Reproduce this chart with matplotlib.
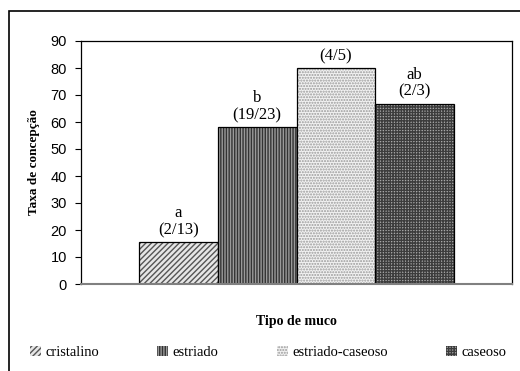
import matplotlib.pyplot as plt
from matplotlib.patches import Rectangle

# data
tipos = ["cristalino", "estriado", "estriado-caseoso", "caseoso"]
taxa = [15.4, 58.0, 80.0, 66.7]
letras = ["a\n(2/13)", "b\n(19/23)", "(4/5)", "ab\n(2/3)"]
yticks = list(range(0, 91, 10))

faces = ["#e6e6e6", "#9a9a9a", "#f2f2f2", "#a8a8a8"]
hatch_cols = ["#555555", "#333333", "#9a9a9a", "#3c3c3c"]
hatches = ["//////", "||||||", "......", "++++++"]

serif = ["Liberation Serif", "DejaVu Serif"]
narrow = ["Liberation Sans Narrow", "Liberation Sans", "DejaVu Sans"]

fig = plt.figure(figsize=(5.2, 3.71), dpi=100)
ax = fig.add_axes([81 / 520, 1 - 284 / 371, 431 / 520, 243 / 371])

# outer chart frame (runs off the right/bottom edge)
fig.patches.append(Rectangle((9 / 520, -0.05), 1.0, 1 - 11 / 371 + 0.05,
                             transform=fig.transFigure, fill=False,
                             edgecolor="black", linewidth=1.2))

xs = list(range(len(tipos)))
for i in xs:
    ax.bar(i, taxa[i], width=1.0, color=faces[i], hatch=hatches[i],
           edgecolor=hatch_cols[i], linewidth=0, label=tipos[i])
    ax.bar(i, taxa[i], width=1.0, fill=False, edgecolor="black", linewidth=0.9)
    ax.text(i, taxa[i] + 1.5, letras[i], ha="center", va="bottom",
            fontsize=12, family=serif, linespacing=1.1)

ax.set_xlim(-1.24, 3.5 + 0.74)
ax.set_ylim(0, 90)
ax.set_yticks(yticks)
ax.set_xticks([])
ax.tick_params(axis="y", direction="out", length=4, width=0.8, labelsize=10.5, pad=6)
for lab in ax.get_yticklabels():
    lab.set_family(narrow)
for s in ["top", "right", "left"]:
    ax.spines[s].set_linewidth(0.9)
ax.spines["bottom"].set_color("#808080")
ax.spines["bottom"].set_linewidth(1.5)

ax.set_ylabel("Taxa de concepção", fontsize=9.5, fontweight="bold", family=serif,
              labelpad=8)
ax.set_xlabel("Tipo de muco", fontsize=10, fontweight="bold", family=serif,
              labelpad=22)

handles, labels = ax.get_legend_handles_labels()
fig.legend(handles, labels, loc="center", bbox_to_anchor=(0.516, 0.05), ncol=4,
           frameon=False, handlelength=0.75, handleheight=0.75, handletextpad=0.3,
           columnspacing=4.0, prop={"family": serif, "size": 10.5})

fig.savefig("out.png", dpi=100)
